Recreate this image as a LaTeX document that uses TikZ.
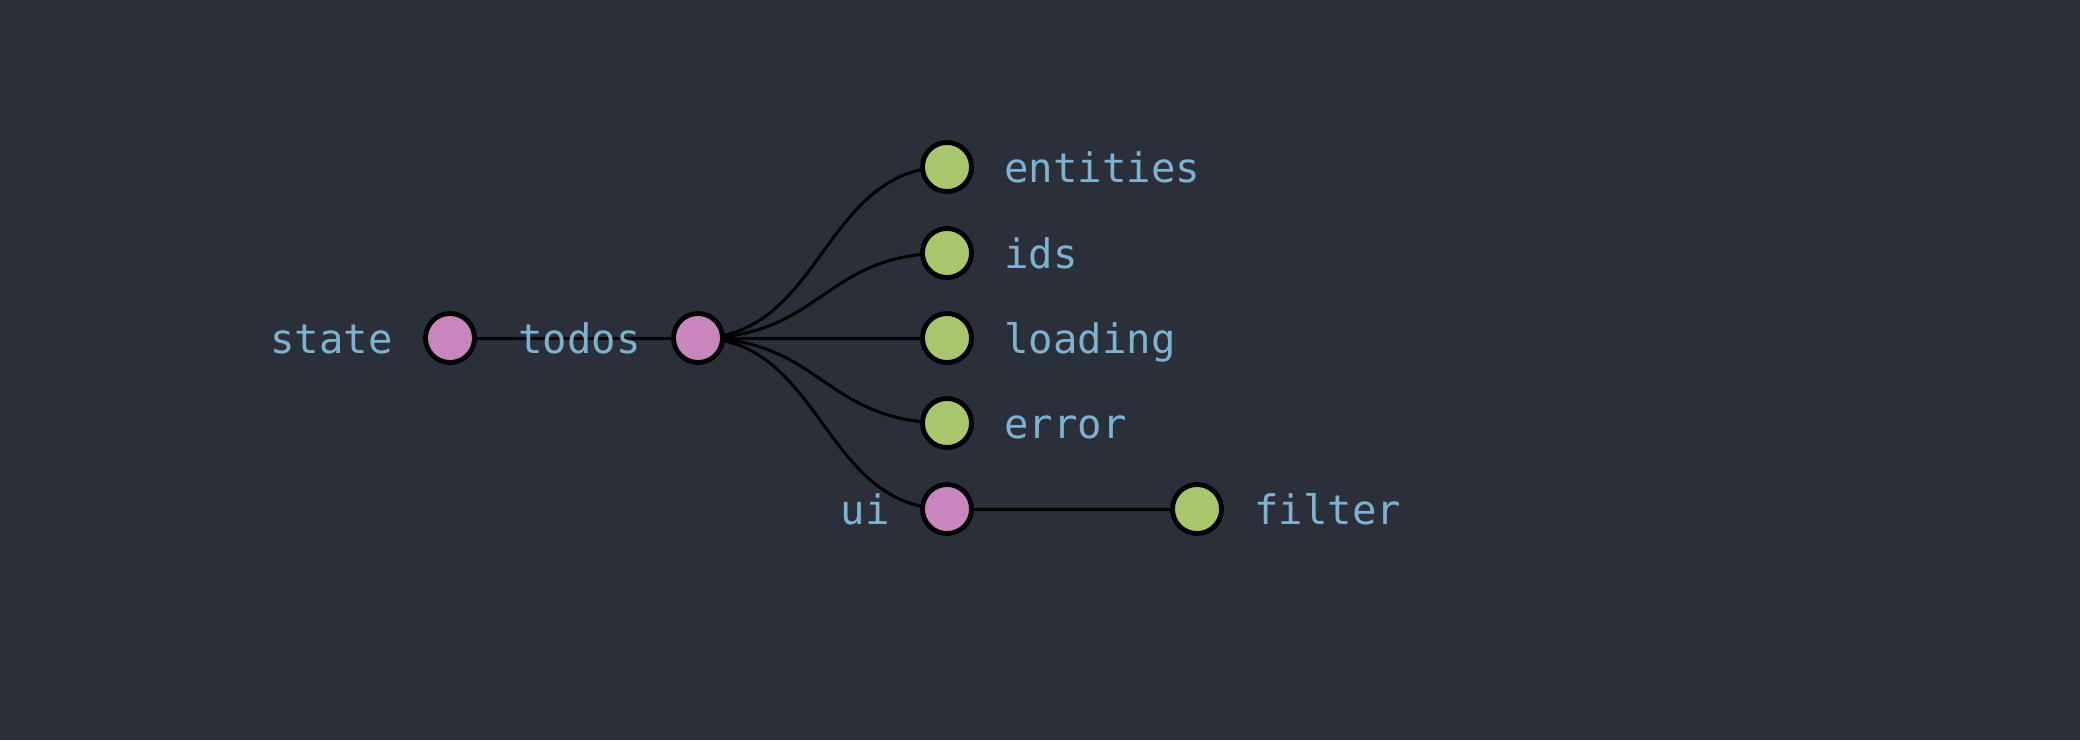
\documentclass[tikz,border=0pt]{standalone}
\usepackage{fontspec}
\setmonofont{DejaVu Sans Mono}
\definecolor{bgcol}{HTML}{2B2F3A}
\definecolor{textcol}{HTML}{7FB1D0}
\definecolor{pinknode}{HTML}{C986BE}
\definecolor{greennode}{HTML}{A8C66C}

\tikzstyle{keyname} = [font=\ttfamily\fontsize{20.3}{24}\selectfont,text=textcol,inner sep=0pt]
\tikzstyle{vertex}=[circle,minimum size=24.5pt,inner sep=0pt]
\tikzstyle{nodedecorate}=[shape=circle,draw=black,line width=2.4pt]
\tikzstyle{edge} = [draw,line width=1.5pt,black,-]

\begin{document}
\begin{tikzpicture}[x=0.5pt,y=-0.5pt]
      \fill[bgcol] (0,0) rectangle (2080,740);
      \useasboundingbox (0,0) rectangle (2080,740);
      %nodes
      \foreach \nodename/\x/\y in {
        state/450/338, todos/698/338, entities/947/167, ids/947/253,
        loading/947/338, error/947/423, ui/947/509, filter/1197/509}
      {
        \node[vertex] (\nodename) at (\x,\y) {};
      };
      %edges first, circles and labels cover them
      \path[edge] (state.center) -- (todos.center);
      \path[edge] (ui.center) -- (filter.center);
      \foreach \endnode in {entities, ids, loading, error, ui}
      {
        \path[edge] (todos.center) .. controls +(124.5,0) and +(-124.5,0) .. (\endnode.center);
      };
      \foreach \nodename/\fillcol/\side/\shift in {
        state/pinknode/east/-28.5, todos/pinknode/east/-28.5,
        entities/greennode/west/28.5, ids/greennode/west/28.5,
        loading/greennode/west/28.5, error/greennode/west/28.5,
        ui/pinknode/east/-28.5, filter/greennode/west/28.5}
      {
        \node[vertex, nodedecorate, fill=\fillcol] at (\nodename) {};
        \node[keyname, anchor=base \side] (\nodename-lbl) at ([xshift=\shift pt, yshift=-7.5pt]\nodename.center) {\nodename};
      };
    \end{tikzpicture}
\end{document}
